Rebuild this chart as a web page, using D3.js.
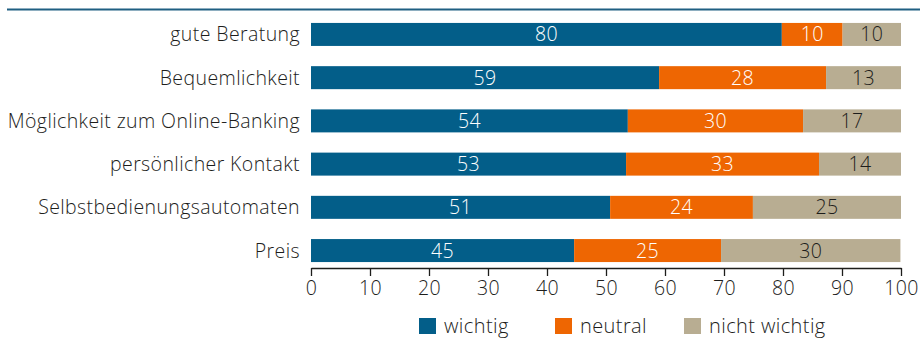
<!DOCTYPE html>
<html>
<head>
<meta charset="utf-8">
<script src="https://cdn.jsdelivr.net/npm/d3@7"></script>
<style>
  body { margin: 0; background: #fff; }
  svg text { font-family: "Open Sans", "Noto Sans", sans-serif; font-weight: 300; fill: #1d1d1b; letter-spacing: 0.4px; }
</style>
</head>
<body>
<main></main>
<script>
const categories = [
  "gute Beratung",
  "Bequemlichkeit",
  "Möglichkeit zum Online-Banking",
  "persönlicher Kontakt",
  "Selbstbedienungsautomaten",
  "Preis",
]
// shares in percent, unrounded as drawn; labels show the rounded value
const wichtig = [79.8, 59.0, 53.7, 53.4, 50.7, 44.6]
const neutral = [10.3, 28.3, 29.7, 32.7, 24.2, 24.9]
const nichtWichtig = [9.9, 12.7, 16.6, 13.9, 25.1, 30.4]
const seriesNames = ["wichtig", "neutral", "nicht wichtig"]
const xTicks = [0, 10, 20, 30, 40, 50, 60, 70, 80, 90, 100]

const colors = ["#035e89", "#ee6602", "#b8ad92"]
const textColors = ["#ffffff", "#ffffff", "#1d1d1b"]

const w = 920
const h = 338

const table = categories.map((c, i) => ({
  cat: c,
  wichtig: wichtig[i],
  neutral: neutral[i],
  "nicht wichtig": nichtWichtig[i],
}))
const stacked = d3.stack().keys(seriesNames)(table)

const svg = d3.select("main").append("svg").attr("width", w).attr("height", h)

// top rule
svg.append("line")
  .attr("x1", 7).attr("x2", w)
  .attr("y1", 9.5).attr("y2", 9.5)
  .attr("stroke", "#1f5f82")
  .attr("stroke-width", 1.8)

const xScale = d3.scaleLinear().domain([0, 100]).range([311, 901])
const yScale = d3.scaleBand().domain(categories).range([13, 272]).paddingInner(0.468).paddingOuter(0.23)

const layers = svg.selectAll("g.layer")
  .data(stacked)
  .enter()
  .append("g")
  .attr("class", "layer")

layers.selectAll("rect")
  .data((d) => d)
  .enter()
  .append("rect")
  .attr("x", (d) => xScale(d[0]))
  .attr("y", (d) => yScale(d.data.cat))
  .attr("width", (d) => xScale(d[1]) - xScale(d[0]))
  .attr("height", yScale.bandwidth())
  .attr("fill", function () { return colors[d3.select(this.parentNode).datum().index] })

layers.selectAll("text")
  .data((d) => d)
  .enter()
  .append("text")
  .attr("x", (d) => (xScale(d[0]) + xScale(d[1])) / 2)
  .attr("y", (d) => yScale(d.data.cat) + yScale.bandwidth() / 2)
  .attr("dy", "0.36em")
  .attr("text-anchor", "middle")
  .style("font-size", "19.5px")
  .style("fill", function () { return textColors[d3.select(this.parentNode).datum().index] })
  .text((d) => Math.round(d[1] - d[0]))

// category labels
svg.append("g")
  .selectAll("text")
  .data(categories)
  .enter()
  .append("text")
  .attr("x", 300)
  .attr("y", (d) => yScale(d) + yScale.bandwidth() / 2)
  .attr("dy", "0.36em")
  .attr("text-anchor", "end")
  .style("font-size", "19.5px")
  .text((d) => d)

// x axis
const xAxis = d3.axisBottom(xScale).tickValues(xTicks).tickSize(8).tickSizeOuter(0).tickPadding(5)
const gx = svg.append("g")
  .attr("transform", "translate(0, 268)")
  .call(xAxis)
gx.select(".domain").attr("stroke", "#1d1d1b").attr("stroke-width", 1.5)
gx.selectAll(".tick line").attr("stroke", "#1d1d1b").attr("stroke-width", 1.3)
gx.selectAll(".tick text")
  .style("font-size", "19.5px")
  .style("font-family", "'Open Sans', 'Noto Sans', sans-serif")
  .style("font-weight", 300)
  .attr("fill", "#1d1d1b")

// legend
const legendX = [419, 555, 684]
const legend = svg.append("g")
  .selectAll("g")
  .data(seriesNames)
  .enter()
  .append("g")
  .attr("transform", (d, i) => `translate(${legendX[i]}, 318)`)
legend.append("rect")
  .attr("width", 17)
  .attr("height", 16)
  .attr("fill", (d, i) => colors[i])
legend.append("text")
  .attr("x", 25)
  .attr("y", 8)
  .attr("dy", "0.36em")
  .style("font-size", "20px")
  .text((d) => d)
</script>
</body>
</html>
